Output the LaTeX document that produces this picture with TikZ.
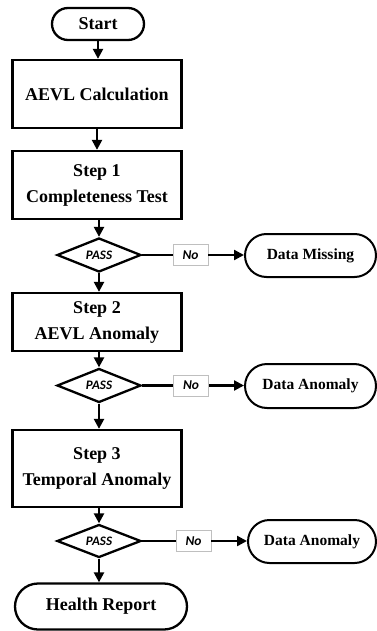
\documentclass[tikz,border=0pt]{standalone}
\usepackage{fontspec}
\setmainfont{Liberation Serif}
\newfontfamily\lblfont{Carlito}
\usetikzlibrary{shapes.misc,shapes.geometric,arrows.meta}
\tikzset{
  base/.style={draw=black,line width=2.3pt,inner sep=0pt,align=center,font=\fontsize{18}{26}\selectfont\bfseries},
  box/.style={base,rectangle,minimum width=169pt},
  term/.style={base,rounded rectangle,rounded rectangle arc length=180},
  endterm/.style={term,line width=2pt,font=\fontsize{15.5}{18}\selectfont\bfseries},
  dec/.style={draw=black,line width=2.3pt,diamond,aspect=2.4,inner sep=0pt,minimum width=84pt,font=\lblfont\fontsize{13}{14}\selectfont\bfseries\itshape},
  nolbl/.style={draw=black!25,line width=0.6pt,fill=white,inner sep=0pt,minimum width=35pt,minimum height=21pt,font=\lblfont\fontsize{13.5}{14}\selectfont\bfseries\itshape},
  conn/.style={line width=2.3pt},
  arr/.style={line width=2.3pt,-{Triangle[length=10pt,width=10pt]}}
}
\begin{document}
\begin{tikzpicture}[x=1pt,y=-1pt]
\useasboundingbox (0,0) rectangle (376,631);
\node[term,minimum width=92pt,minimum height=32pt] (start) at (98,24) {Start};
\node[box,minimum height=68pt] (calc) at (97,94) {AEVL Calculation};
\node[box,minimum height=68pt] (s1) at (97,185) {Step 1\\Completeness Test};
\node[dec,minimum height=34pt] (d1) at (99,255) {PASS};
\node[nolbl] (no1) at (190.5,255) {No};
\node[endterm,minimum width=131pt,minimum height=43pt] (dm) at (310.5,255.5) {Data Missing};
\node[box,minimum height=58pt] (s2) at (97,322) {Step 2\\AEVL Anomaly};
\node[dec,minimum height=34pt] (d2) at (99,385.5) {PASS};
\node[nolbl] (no2) at (191,385.5) {No};
\node[endterm,minimum width=131pt,minimum height=44pt] (da1) at (310.5,386) {Data Anomaly};
\node[box,minimum height=77pt] (s3) at (97,468.5) {Step 3\\Temporal Anomaly};
\node[dec,minimum height=33pt] (d3) at (99,541) {PASS};
\node[nolbl] (no3) at (193.5,541) {No};
\node[endterm,minimum width=128pt,minimum height=43pt] (da2) at (312,541.5) {Data Anomaly};
\node[term,minimum width=172pt,minimum height=46pt] (hr) at (101,606.5) {Health Report};
% vertical flow
\draw[arr] (start.south) -- (start.south |- calc.north);
\draw[arr] (calc.south) -- (calc.south |- s1.north);
\draw[arr] (d1.north |- s1.south) -- (d1.north);
\draw[arr] (d1.south) -- (d1.south |- s2.north);
\draw[arr] (d2.north |- s2.south) -- (d2.north);
\draw[arr] (d2.south) -- (d2.south |- s3.north);
\draw[arr] (d3.north |- s3.south) -- (d3.north);
\draw[arr] (d3.south) -- (d3.south |- hr.north);
% no branches
\draw[conn] (d1.east) -- (no1.west);
\draw[arr] (no1.east) -- (no1.east -| dm.west);
\draw[conn] (d2.east) -- (no2.west);
\draw[arr] (no2.east) -- (no2.east -| da1.west);
\draw[conn] (d3.east) -- (no3.west);
\draw[arr] (no3.east) -- (no3.east -| da2.west);
\end{tikzpicture}
\end{document}
